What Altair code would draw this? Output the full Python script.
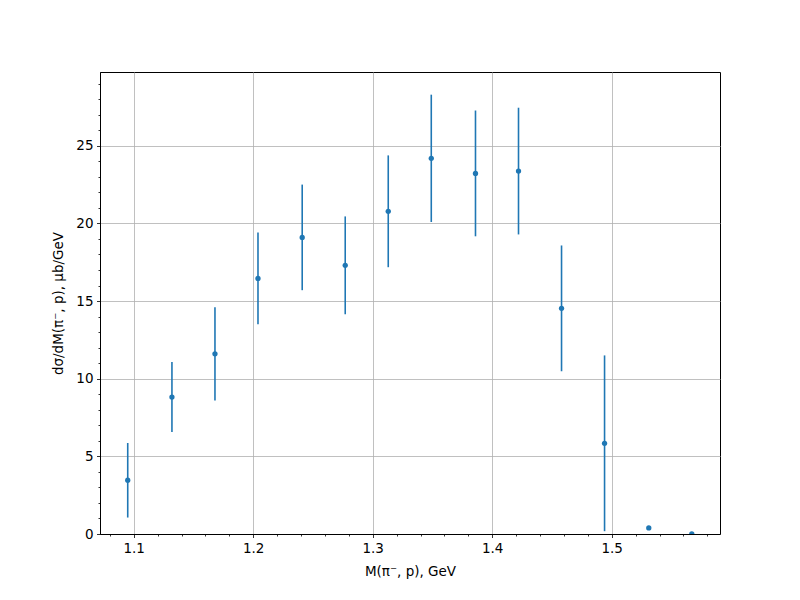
import altair as alt
import pandas as pd

mass = [1.095, 1.132, 1.168, 1.204, 1.241, 1.277, 1.313, 1.349, 1.386, 1.422, 1.458, 1.494, 1.531, 1.567]
xsec = [3.46, 8.82, 11.6, 16.46, 19.1, 17.3, 20.78, 24.19, 23.22, 23.37, 14.53, 5.84, 0.39, 0.0]
err = [2.4, 2.25, 3.0, 2.95, 3.4, 3.15, 3.6, 4.1, 4.05, 4.08, 4.05, 5.66, 0.08, 0.0]

x_major = [1.1, 1.2, 1.3, 1.4, 1.5]
x_minor = [1.08, 1.12, 1.14, 1.16, 1.18, 1.22, 1.24, 1.26, 1.28, 1.32,
           1.34, 1.36, 1.38, 1.42, 1.44, 1.46, 1.48, 1.52, 1.54, 1.56, 1.58]
y_major = [0, 5, 10, 15, 20, 25]
y_minor = [1, 2, 3, 4, 6, 7, 8, 9, 11, 12, 13, 14, 16, 17, 18, 19,
           21, 22, 23, 24, 26, 27, 28, 29]

df = pd.DataFrame({"m": mass, "y": xsec, "e": err})
df["lo"] = df["y"] - df["e"]
df["hi"] = df["y"] + df["e"]

color = "#1f77b4"
font = "DejaVu Sans"

x_scale = alt.Scale(domain=[1.0718, 1.5906], nice=False, zero=False)
y_scale = alt.Scale(domain=[0, 29.75], nice=False, zero=False)

x_axis = alt.Axis(
    title="M(π⁻, p), GeV", values=x_major, format=".1f", tickSize=3.5,
    labelOverlap=False, labelFlush=False, grid=True, orient="bottom",
    titlePadding=10,
)
y_axis = alt.Axis(
    title="dσ/dM(π⁻, p), μb/GeV", values=y_major, format="d", tickSize=3.5,
    labelOverlap=False, labelFlush=False, grid=True, orient="left",
    titlePadding=10,
)
x_minor_axis = alt.Axis(
    title=None, values=x_minor, labels=False, tickSize=2, grid=False,
    domain=False, orient="bottom",
)
y_minor_axis = alt.Axis(
    title=None, values=y_minor, labels=False, tickSize=2, grid=False,
    domain=False, orient="left",
)

base = alt.Chart(df)

bars = base.mark_rule(color=color, strokeWidth=1.6).encode(
    x=alt.X("m:Q", scale=x_scale, axis=x_axis),
    y=alt.Y("lo:Q", scale=y_scale, axis=y_axis),
    y2="hi:Q",
)

points = base.mark_circle(color=color, size=28, opacity=1, clip=True).encode(
    x=alt.X("m:Q", scale=x_scale, axis=x_minor_axis),
    y=alt.Y("y:Q", scale=y_scale, axis=y_minor_axis),
)

chart = alt.layer(bars, points).resolve_axis(
    x="independent", y="independent"
).properties(
    width=620,
    height=462,
    autosize=alt.AutoSizeParams(type="none"),
    padding={"left": 92, "top": 64, "right": 72, "bottom": 58},
).configure_view(
    stroke="black", strokeWidth=1
).configure_axis(
    domainColor="black",
    domainWidth=1,
    tickColor="black",
    tickWidth=0.8,
    gridColor="#b0b0b0",
    gridWidth=0.8,
    labelFont=font,
    labelFontSize=13.5,
    labelColor="black",
    labelPadding=3.5,
    titleFont=font,
    titleFontSize=13.5,
    titleFontWeight="normal",
    titleColor="black",
)

chart.save("out.html", embed_options={"renderer": "svg", "actions": False})
